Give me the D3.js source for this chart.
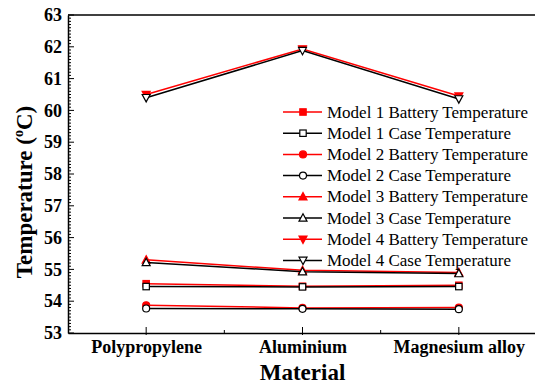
<!DOCTYPE html>
<html><head><meta charset="utf-8">
<script src="https://cdn.jsdelivr.net/npm/d3@7"></script>
<style>body{margin:0;background:#fff}svg{display:block}</style>
</head><body>
<script>
const categories = ["Polypropylene", "Aluminium", "Magnesium alloy"];
const seriesNames = [
  "Model 1 Battery Temperature", "Model 1 Case Temperature",
  "Model 2 Battery Temperature", "Model 2 Case Temperature",
  "Model 3 Battery Temperature", "Model 3 Case Temperature",
  "Model 4 Battery Temperature", "Model 4 Case Temperature"
];
const m1Battery = [54.55, 54.47, 54.50];
const m1Case    = [54.46, 54.45, 54.46];
const m2Battery = [53.87, 53.79, 53.80];
const m2Case    = [53.77, 53.76, 53.75];
const m3Battery = [55.30, 54.97, 54.90];
const m3Case    = [55.22, 54.93, 54.87];
const m4Battery = [60.50, 61.93, 60.45];
const m4Case    = [60.40, 61.88, 60.36];
const yTicks = [53, 54, 55, 56, 57, 58, 59, 60, 61, 62, 63];

const seriesValues = [m1Battery, m1Case, m2Battery, m2Case, m3Battery, m3Case, m4Battery, m4Case];
const markers = ["square","square","circle","circle","tri","tri","tridown","tridown"];
const FONT = "'Liberation Serif'";

const W = 535, H = 385;
const svg = d3.select("body").append("svg").attr("width", W).attr("height", H);
const pL = 68, pT = 15, pB = 333, pR = 537;

const x = d3.scaleLinear().domain([0.5, 3.5]).range([pL, pR]);
const y = d3.scaleLinear().domain([53, 63]).range([pB, pT]);

// frame top
svg.append("line").attr("x1", pL).attr("x2", pR).attr("y1", pT).attr("y2", pT)
  .attr("stroke", "#000").attr("stroke-width", 1.5);

// Y axis
const ya = svg.append("g").attr("transform", `translate(${pL},0)`)
  .call(d3.axisLeft(y).tickValues(yTicks).tickSize(0).tickPadding(6).tickFormat(d3.format("d")));
ya.attr("font-family", null).attr("font-size", null);
ya.select(".domain").attr("stroke-width", 1.5);
ya.selectAll("text").style("font-family", FONT).style("font-weight", "bold").style("font-size", "18px").attr("fill", "#000");
const minorY = d3.range(530, 631).map(v => v / 10);
svg.append("g").selectAll("line").data(minorY).join("line")
  .attr("x1", pL).attr("x2", d => pL + (Math.abs(d - Math.round(d)) < 1e-6 ? 6 : 3))
  .attr("y1", d => y(d)).attr("y2", d => y(d))
  .attr("stroke", "#000").attr("stroke-width", 1);

// X axis
const xa = svg.append("g").attr("transform", `translate(0,${pB})`)
  .call(d3.axisBottom(x).tickValues([1, 2, 3]).tickSize(0).tickPadding(7)
    .tickFormat((d, i) => categories[i]));
xa.attr("font-family", null).attr("font-size", null);
xa.select(".domain").attr("stroke-width", 1.5);
xa.selectAll("text").style("font-family", FONT).style("font-weight", "bold").style("font-size", "18px").attr("fill", "#000");
const xTickVals = [1, 1.5, 2, 2.5, 3];
svg.append("g").selectAll("line").data(xTickVals).join("line")
  .attr("x1", d => x(d)).attr("x2", d => x(d))
  .attr("y1", d => Number.isInteger(d) ? pB - 6 : pB - 3)
  .attr("y2", d => Number.isInteger(d) ? pB + 2 : pB)
  .attr("stroke", "#000").attr("stroke-width", 1);

// axis titles
svg.append("text").attr("x", x(2)).attr("y", 380).attr("text-anchor", "middle")
  .style("font-family", FONT).style("font-weight", "bold").style("font-size", "23px").text("Material");
const yt = svg.append("text").attr("transform", `translate(32,192) rotate(-90)`)
  .attr("text-anchor", "middle")
  .style("font-family", FONT).style("font-weight", "bold").style("font-size", "23px");
yt.append("tspan").text("Temperature (");
yt.append("tspan").style("font-size", "14px").attr("dy", -9).text("o");
yt.append("tspan").attr("dy", 9).text("C)");

function drawMarker(g, type, cx, cy, isRed) {
  const fill = isRed ? "#ff0000" : "#fff";
  const stroke = isRed ? "#ff0000" : "#000";
  const s = 3.2;
  let el;
  if (type === "square") el = g.append("rect").attr("x", cx - s).attr("y", cy - s).attr("width", 2 * s).attr("height", 2 * s);
  else if (type === "circle") el = g.append("circle").attr("cx", cx).attr("cy", cy).attr("r", s + 0.3);
  else if (type === "tri") el = g.append("path").attr("d", `M${cx},${cy - s - 1}L${cx + s + 0.8},${cy + s}L${cx - s - 0.8},${cy + s}Z`);
  else el = g.append("path").attr("d", `M${cx},${cy + s + 1}L${cx + s + 0.8},${cy - s}L${cx - s - 0.8},${cy - s}Z`);
  el.attr("fill", fill).attr("stroke", stroke).attr("stroke-width", 1.2);
}

const line = d3.line().x((d, i) => x(i + 1)).y(d => y(d));
seriesValues.forEach((vals, k) => {
  const isRed = k % 2 === 0;
  const g = svg.append("g");
  g.append("path").datum(vals).attr("d", line).attr("fill", "none")
    .attr("stroke", isRed ? "#ff0000" : "#000").attr("stroke-width", 1.5);
  vals.forEach((v, i) => drawMarker(g, markers[k], x(i + 1), y(v), isRed));
});

// legend
const lg = svg.append("g");
seriesNames.forEach((name, k) => {
  const isRed = k % 2 === 0;
  const cy = 112 + k * 21.2;
  lg.append("line").attr("x1", 283).attr("x2", 322).attr("y1", cy).attr("y2", cy)
    .attr("stroke", isRed ? "#ff0000" : "#000").attr("stroke-width", 1.5);
  drawMarker(lg, markers[k], 303, cy, isRed);
  lg.append("text").attr("x", 327).attr("y", cy + 5.5)
    .style("font-family", FONT).style("font-size", "17px").attr("fill", "#000").text(name);
});
</script>
</body></html>
